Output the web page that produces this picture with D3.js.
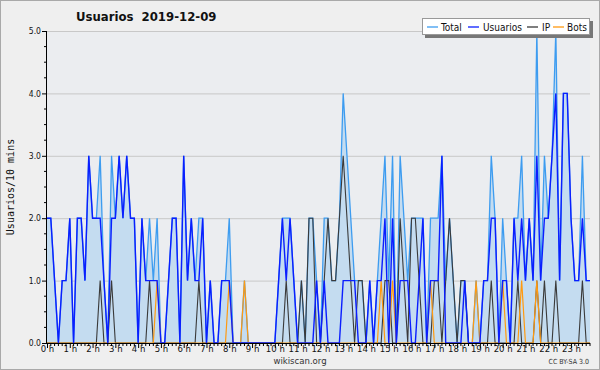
<!DOCTYPE html>
<html><head><meta charset="utf-8">
<script src="https://cdn.jsdelivr.net/npm/d3@7/dist/d3.min.js"></script>
<style>
html,body{margin:0;padding:0;background:#fff;}
svg{display:block;}
</style></head>
<body>
<svg id="chart" width="600" height="370"></svg>
<script>
const title = "Usuarios  2019-12-09";
const yLabel = "Usuarios/10 mins";
const hourLabels = ["0 h","1 h","2 h","3 h","4 h","5 h","6 h","7 h","8 h","9 h","10 h","11 h","12 h","13 h","14 h","15 h","16 h","17 h","18 h","19 h","20 h","21 h","22 h","23 h"];
const yTickValues = [0,1,2,3,4,5];
const yTickLabels = ["0.0","1.0","2.0","3.0","4.0","5.0"];
const seriesNames = ["Total","Usuarios","IP","Bots"];

const usuarios = [2,2,1,0,1,1,2,0,2,2,1,3,2,2,2,1,0,2,2,3,2,3,2,2,0,2,1,1,1,1,0,0,1,2,2,0,3,1,2,1,1,2,0,1,0,0,1,1,1,0,0,0,0,0,0,0,0,0,0,0,0,1,2,1,2,1,0,0,0,0,0,1,0,1,0,0,0,0,1,1,1,1,0,0,0,1,0,1,1,2,0,2,0,1,1,1,0,0,1,2,0,1,1,1,3,0,0,0,0,0,1,0,0,0,0,1,1,2,2,0,1,1,0,2,1,2,1,2,1,3,1,2,2,3,4,1,4,4,2,1,1,2,1,1];
const ip =       [0,0,0,0,0,0,0,0,0,0,0,0,0,0,1,0,0,1,0,0,0,0,0,0,0,0,0,1,0,0,0,0,0,0,0,0,0,0,0,0,1,0,0,0,0,0,0,0,0,0,0,0,0,0,0,0,0,0,0,0,0,0,0,1,0,0,0,1,0,2,2,0,0,1,2,1,1,2,3,2,1,0,1,1,0,0,0,0,0,1,1,0,0,2,1,0,2,2,1,0,0,0,1,1,0,1,2,1,0,1,1,0,0,0,0,0,0,1,0,0,0,0,0,0,1,0,0,0,0,1,0,1,0,0,1,0,0,0,0,0,0,1,0,0];
const bots =     [0,0,0,0,0,0,0,0,0,0,0,0,0,0,0,0,0,0,0,0,0,0,0,0,0,0,0,0,0,1,0,0,0,0,0,0,0,0,0,0,0,0,0,0,0,0,0,0,1,0,0,0,1,0,0,0,0,0,0,0,0,0,0,0,0,0,0,0,0,0,0,0,0,0,0,0,0,0,0,0,0,0,0,0,0,0,0,0,1,0,0,1,0,0,0,0,0,0,0,0,0,1,0,0,0,0,0,0,0,0,0,0,0,1,0,0,0,0,0,0,1,0,0,0,0,1,0,0,0,1,0,0,0,0,0,0,0,0,0,0,0,0,0,0];
const total =    [2,2,1,0,1,1,2,0,2,2,1,3,2,2,3,1,0,3,2,3,2,3,2,2,0,2,1,2,1,2,0,0,1,2,2,0,3,1,2,1,2,2,0,1,0,0,1,1,2,0,0,0,1,0,0,0,0,0,0,0,0,1,2,2,2,1,0,1,0,2,2,1,0,2,2,1,1,2,4,3,2,1,1,1,0,1,0,1,2,3,1,3,0,3,2,1,2,2,2,2,0,2,2,2,3,1,2,1,0,1,1,0,0,1,0,1,1,3,2,0,2,1,0,2,2,3,1,2,1,5,1,3,2,3,5,1,4,4,2,1,1,3,1,1];

const W = 600, H = 370;
const plot = {left: 47, right: 590, top: 31, bottom: 343};
const svg = d3.select("#chart");
const FONT = "'DejaVu Sans Condensed','DejaVu Sans',sans-serif";

svg.append("rect").attr("x",0.5).attr("y",0.5).attr("width",W-1).attr("height",H-1)
  .attr("fill","#efefef").attr("stroke","#a9a9a9");
svg.append("rect").attr("x",plot.left).attr("y",plot.top).attr("width",plot.right-plot.left).attr("height",plot.bottom-plot.top)
  .attr("fill","#ebedf0");

const n = total.length;
const x = d3.scaleLinear().domain([0, n-1]).range([plot.left, plot.right]);
const y = d3.scaleLinear().domain([0, 5]).range([plot.bottom, plot.top]);

svg.append("g").selectAll("line").data(yTickValues.filter(v=>v>0)).join("line")
  .attr("x1",plot.left).attr("x2",plot.right)
  .attr("y1",d=>y(d)+0.5).attr("y2",d=>y(d)+0.5)
  .attr("stroke","#c8c8c8").attr("stroke-width",1);

const area = d3.area().x((d,i)=>x(i)).y0(y(0)).y1(d=>y(d));
svg.append("path").datum(total).attr("d",area).attr("fill","#c4dcf0");

const line = d3.line().x((d,i)=>x(i)).y(d=>y(d));
const styles = [
  {data: total, color: "#3d9cf0", w: 1.3},
  {data: ip, color: "#3a3a3a", w: 1.1},
  {data: bots, color: "#ff9a10", w: 1.2},
  {data: usuarios, color: "#0a1eff", w: 1.4}
];
styles.forEach(s=>{
  svg.append("path").datum(s.data).attr("d",line).attr("fill","none")
    .attr("stroke",s.color).attr("stroke-width",s.w).attr("stroke-linejoin","miter");
});

const xAxis = d3.axisBottom(x).tickValues(d3.range(0,144,6)).tickSize(5).tickFormat((d,i)=>hourLabels[i]);
const gx = svg.append("g").attr("transform",`translate(0,${plot.bottom})`).call(xAxis);
gx.select(".domain").attr("stroke","#000").attr("d",`M${plot.left},0.5H${plot.right}`);
gx.selectAll(".tick line").attr("stroke","#000");
gx.selectAll(".tick text").attr("font-family",FONT)
  .attr("font-size",9.5).attr("fill","#111").attr("dy","0.55em").attr("y",4);
svg.append("g").selectAll("line").data(d3.range(0,144).filter(i=>i%6!==0)).join("line")
  .attr("x1",d=>x(d)).attr("x2",d=>x(d)).attr("y1",plot.bottom).attr("y2",plot.bottom+3)
  .attr("stroke","#000");

const yAxis = d3.axisLeft(y).tickValues(yTickValues).tickSize(5).tickFormat((d,i)=>yTickLabels[i]);
const gy = svg.append("g").attr("transform",`translate(${plot.left},0)`).call(yAxis);
gy.select(".domain").attr("stroke","#000").attr("d",`M-0.5,${plot.top}V${plot.bottom}`);
gy.selectAll(".tick line").attr("stroke","#000");
gy.selectAll(".tick text").attr("font-family",FONT)
  .attr("font-size",8.5).attr("fill","#111").attr("x",-6);
svg.append("g").selectAll("line").data(d3.range(0,5.01,0.25).filter(v=>Math.abs(v-Math.round(v))>0.01)).join("line")
  .attr("x1",plot.left-3).attr("x2",plot.left).attr("y1",d=>y(d)).attr("y2",d=>y(d))
  .attr("stroke","#000");

svg.append("text").attr("x",76).attr("y",21).text(title)
  .attr("font-family",FONT).attr("font-weight","bold")
  .attr("font-size",13).attr("fill","#111").style("white-space","pre");

svg.append("text").attr("transform",`translate(14,${(plot.top+plot.bottom)/2}) rotate(-90)`)
  .attr("text-anchor","middle").text(yLabel)
  .attr("font-family","'DejaVu Sans Mono',monospace").attr("font-size",10).attr("fill","#111");

svg.append("text").attr("x",300).attr("y",364).attr("text-anchor","middle").text("wikiscan.org")
  .attr("font-family",FONT).attr("font-size",9.5).attr("fill","#333");
svg.append("text").attr("x",589).attr("y",364).attr("text-anchor","end").text("CC BY-SA 3.0")
  .attr("font-family",FONT).attr("font-size",7).attr("fill","#333");

const lg = svg.append("g");
lg.append("rect").attr("x",425).attr("y",21).attr("width",168).attr("height",17).attr("fill","#777");
lg.append("rect").attr("x",422.5).attr("y",18.5).attr("width",167).attr("height",16).attr("fill","#fff").attr("stroke","#999");
const legendItems = [
  {name: seriesNames[0], color: "#3d9cf0", lx: 427, tx: 441},
  {name: seriesNames[1], color: "#0a1eff", lx: 468, tx: 483},
  {name: seriesNames[2], color: "#3a3a3a", lx: 527, tx: 542},
  {name: seriesNames[3], color: "#ff9a10", lx: 553, tx: 567}
];
legendItems.forEach(it=>{
  lg.append("line").attr("x1",it.lx).attr("x2",it.lx+11).attr("y1",27).attr("y2",27).attr("stroke",it.color).attr("stroke-width",1.3);
  lg.append("text").attr("x",it.tx).attr("y",30.5).text(it.name)
    .attr("font-family",FONT).attr("font-size",10).attr("fill","#111");
});
</script>
</body></html>
